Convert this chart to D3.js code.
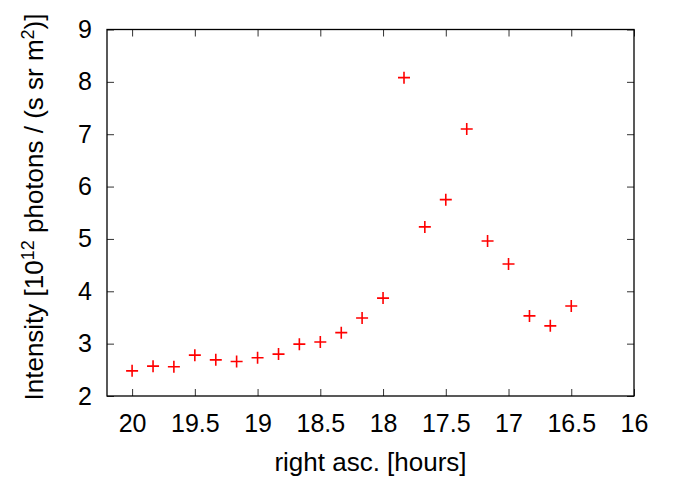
<!DOCTYPE html>
<html>
<head>
<meta charset="utf-8">
<script src="https://cdn.jsdelivr.net/npm/d3@7"></script>
<style>
  body { margin: 0; background: #fff; }
  text { font-family: "Liberation Sans", Arial, sans-serif; fill: #000; }
</style>
</head>
<body>
<div id="chart"></div>
<script>
// right ascension (hours) and measured intensity
var raHours = [20, 19.833, 19.667, 19.5, 19.333, 19.167, 19, 18.833, 18.667, 18.5, 18.333,
               18.167, 18, 17.833, 17.667, 17.5, 17.333, 17.167, 17, 16.833, 16.667, 16.5];
var intensity = [2.48, 2.57, 2.56, 2.78, 2.69, 2.66, 2.73, 2.80, 2.99, 3.03, 3.21,
                 3.49, 3.87, 8.08, 5.23, 5.75, 7.10, 4.96, 4.52, 3.53, 3.34, 3.72];
var xTicks = [20, 19.5, 19, 18.5, 18, 17.5, 17, 16.5, 16];
var yTicks = [2, 3, 4, 5, 6, 7, 8, 9];

var width = 675, height = 478;
var margin = {top: 29.5, right: 41, bottom: 82, left: 107};
var plotW = width - margin.left - margin.right;
var plotH = height - margin.top - margin.bottom;

var svg = d3.select("#chart").append("svg")
  .attr("width", width)
  .attr("height", height);

var g = svg.append("g")
  .attr("transform", "translate(" + margin.left + "," + margin.top + ")");

var x = d3.scaleLinear().domain([20.2, 16]).range([0, plotW]);
var y = d3.scaleLinear().domain([2, 9]).range([plotH, 0]);

// ticks on all four sides, pointing inward
var tickLen = 7;
g.append("g")
  .attr("transform", "translate(0," + plotH + ")")
  .call(d3.axisBottom(x).tickValues(xTicks).tickSize(-tickLen).tickPadding(18).tickFormat(d3.format("")))
  .call(function(a){ a.select(".domain").remove(); });
g.append("g")
  .call(d3.axisTop(x).tickValues(xTicks).tickSize(-tickLen).tickFormat(""))
  .call(function(a){ a.select(".domain").remove(); });
g.append("g")
  .call(d3.axisLeft(y).tickValues(yTicks).tickSize(-tickLen).tickPadding(15).tickFormat(d3.format("")))
  .call(function(a){ a.select(".domain").remove(); });
g.append("g")
  .attr("transform", "translate(" + plotW + ",0)")
  .call(d3.axisRight(y).tickValues(yTicks).tickSize(-tickLen).tickFormat(""))
  .call(function(a){ a.select(".domain").remove(); });

g.selectAll(".tick line").attr("stroke", "#333").attr("stroke-width", 1);
g.selectAll(".tick text")
  .style("font-size", "25px")
  .style("font-family", "'Liberation Sans', Arial, sans-serif")
  .attr("fill", "#000");

// frame
g.append("rect")
  .attr("width", plotW)
  .attr("height", plotH)
  .attr("fill", "none")
  .attr("stroke", "#000")
  .attr("stroke-width", 1.3);

// plus markers
var pts = d3.range(raHours.length);
g.selectAll(".pt")
  .data(pts)
  .enter()
  .append("path")
    .attr("class", "pt")
    .attr("transform", function(i){ return "translate(" + x(raHours[i]) + "," + y(intensity[i]) + ")"; })
    .attr("d", "M-6,0H6M0,-6V6")
    .attr("stroke", "#ff0000")
    .attr("stroke-width", 1.6)
    .attr("fill", "none");

// axis titles
svg.append("text")
  .attr("x", margin.left + plotW / 2)
  .attr("y", 471)
  .attr("text-anchor", "middle")
  .style("font-size", "26px")
  .text("right asc. [hours]");

var yl = svg.append("text")
  .attr("transform", "translate(43,207) rotate(-90)")
  .attr("text-anchor", "middle")
  .style("font-size", "26px");
yl.append("tspan").text("Intensity [10");
yl.append("tspan").attr("dy", -9).style("font-size", "18px").text("12");
yl.append("tspan").attr("dy", 9).text(" photons / (s sr m");
yl.append("tspan").attr("dy", -9).style("font-size", "18px").text("2");
yl.append("tspan").attr("dy", 9).text(")]");
</script>
</body>
</html>
